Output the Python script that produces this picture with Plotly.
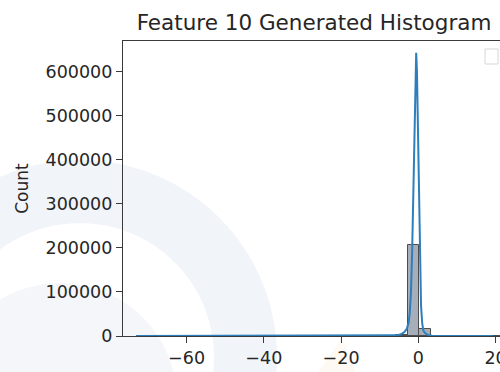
import plotly.graph_objects as go

# ---- data -------------------------------------------------------------
title_text = "Feature 10 Generated Histogram"
y_label = "Count"

# histogram bins: first edge, common width, and count per bin
bin_start = -72.9
bin_width = 3.05
bin_counts = [0, 0, 0, 0, 0, 0, 0, 0, 0, 0,
              0, 0, 0, 0, 0, 0, 0, 0, 0, 0,
              0, 0, 1500, 206600, 15500, 300, 0, 0, 0, 0, 0]

# kernel density estimate, scaled to counts
kde_x = [-73.1, -60, -40, -20, -10, -7, -5.5, -4.5, -3.6, -3.0, -2.5,
         -2.2, -1.9, -1.6, -1.3, -1.0, -0.75, -0.55, -0.35, -0.1, 0.15,
         0.4, 0.7, 1.0, 1.3, 1.8, 2.5, 3.5, 5, 8, 19.3]
kde_y = [0, 0, 0, 0, 0, 300, 1500, 4000, 9000, 16000, 30000,
         55000, 100000, 190000, 330000, 500000, 610000, 643000, 600000, 460000, 300000,
         160000, 70000, 30000, 12000, 6000, 2500, 800, 100, 0, 0]

x_ticks = [-60, -40, -20, 0, 20]
y_ticks = [0, 100000, 200000, 300000, 400000, 500000, 600000]

# ---- figure geometry ----------------------------------------------------
W, H = 500, 372
L, T, B, R = 123, 41, 36, 0
PW, PH = W - L - R, H - T - B


def px(x):
    return (x - L) / PW


def py(y):
    return (H - B - y) / PH


centers = [bin_start + bin_width * (i + 0.5) for i in range(len(bin_counts))]

fig = go.Figure()

fig.add_trace(go.Bar(
    x=centers, y=bin_counts, width=[bin_width] * len(bin_counts),
    marker=dict(color="rgba(128,140,156,0.7)",
                line=dict(color="#4d4d4d", width=1)),
    showlegend=False, hoverinfo="skip",
))

fig.add_trace(go.Scatter(
    x=kde_x, y=kde_y, mode="lines",
    line=dict(color="#2e7ebc", width=2),
    showlegend=False, hoverinfo="skip",
))

# faint background emblem
shapes = []


def circle(cx, cy, r, color):
    return dict(type="circle", xref="paper", yref="paper",
                x0=px(cx - r), x1=px(cx + r), y0=py(cy + r), y1=py(cy - r),
                fillcolor=color, line=dict(width=0), layer="below")


shapes.append(circle(80, 357, 197, "#f1f4f8"))
shapes.append(circle(80, 357, 134, "#ffffff"))
shapes.append(circle(60, 400, 117, "#f5f6f9"))
shapes.append(dict(
    type="path", xref="paper", yref="paper", layer="below",
    path=f"M {px(318)} {py(372)} L {px(342)} {py(338)} L {px(356)} {py(372)} Z",
    fillcolor="rgba(252,220,190,0.18)", line=dict(width=0)))

# empty legend frame
shapes.append(dict(type="rect", xref="paper", yref="paper",
                   x0=px(485), x1=px(498), y0=py(64), y1=py(49),
                   line=dict(color="#d6d6d6", width=1), fillcolor="white"))

font_family = "DejaVu Sans"
axis_color = "#3a3a3a"

fig.update_layout(
    width=W, height=H,
    margin=dict(l=L, r=R, t=T, b=B, pad=0, autoexpand=False),
    paper_bgcolor="white",
    plot_bgcolor="rgba(0,0,0,0)",
    bargap=0,
    shapes=shapes,
    font=dict(family=font_family, color="#262626", size=17.5),
    title=dict(text=title_text, x=314 / W, xref="container", xanchor="center",
               y=1 - 22 / H, yref="container", yanchor="middle",
               font=dict(family=font_family, size=21.5, color="#262626")),
    xaxis=dict(range=[-76.46, 21.15], tickvals=x_ticks,
               showgrid=False, zeroline=False, automargin=False,
               showline=True, mirror=True, linecolor=axis_color, linewidth=1.3,
               ticks="outside", ticklen=6, tickwidth=1.3, tickcolor=axis_color,
               ticklabeloverflow="allow",
               tickfont=dict(size=17.5)),
    yaxis=dict(range=[0, 669700], tickvals=y_ticks, tickformat="d",
               showgrid=False, zeroline=False, automargin=False,
               showline=True, linecolor=axis_color, linewidth=1.3,
               ticks="outside", ticklen=6, tickwidth=1.3, tickcolor=axis_color,
               tickfont=dict(size=17.5),
               title=dict(text=y_label, standoff=12, font=dict(size=17))),
)

fig.write_html("out.html",
               post_script="document.body.style.overflow='hidden';")
